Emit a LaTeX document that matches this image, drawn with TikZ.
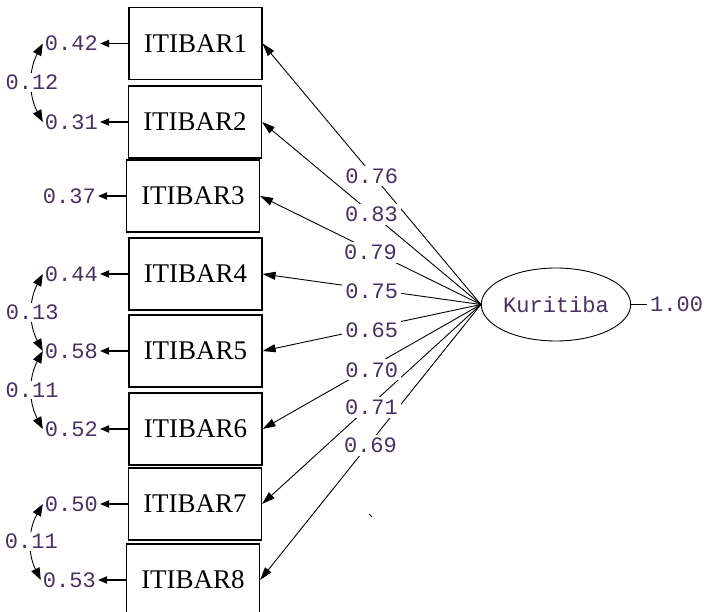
\documentclass[tikz,border=0pt]{standalone}
\usepackage{fontspec}
\setmainfont{Liberation Serif}
\newfontfamily\monof{Liberation Mono}
\usetikzlibrary{arrows.meta,shapes.geometric}
\definecolor{numc}{RGB}{70,50,95}
\tikzset{
  obsbox/.style={draw, line width=1.2pt, minimum width=133pt, minimum height=72pt, inner sep=0pt,
    font=\fontsize{27}{30}\selectfont},
  numlab/.style={text=numc, inner sep=2pt, font=\monof\fontsize{22}{24}\selectfont},
  errlab/.style={numlab, anchor=east},
  loadlab/.style={numlab, fill=white, inner sep=3pt},
  arr/.style={line width=0.9pt, -{Triangle[length=13pt,width=8pt]}},
  errarr/.style={line width=1.8pt, -{Triangle[length=9pt,width=7pt]}},
  covar/.style={line width=0.9pt, {Triangle[length=12pt,width=9pt]}-{Triangle[length=12pt,width=9pt]}},
}
\begin{document}
\begin{tikzpicture}[x=1pt,y=-1pt]
\useasboundingbox (0,0) rectangle (704,612);
% observed variables
\node[obsbox] (b1) at (195.5,43.5) {ITIBAR1};
\node[obsbox] (b2) at (195,122) {ITIBAR2};
\node[obsbox] (b3) at (193,196) {ITIBAR3};
\node[obsbox] (b4) at (195.5,274) {ITIBAR4};
\node[obsbox] (b5) at (195.5,351) {ITIBAR5};
\node[obsbox] (b6) at (195.5,429) {ITIBAR6};
\node[obsbox] (b7) at (195,504) {ITIBAR7};
\node[obsbox] (b8) at (193,580) {ITIBAR8};
% error variances
\node[errlab] (e1) at (100,43.5) {0.42};
\node[errlab] (e2) at (100,122) {0.31};
\node[errlab] (e3) at (98,196) {0.37};
\node[errlab] (e4) at (100,274) {0.44};
\node[errlab] (e5) at (100,351) {0.58};
\node[errlab] (e6) at (100,429) {0.52};
\node[errlab] (e7) at (100,504) {0.50};
\node[errlab] (e8) at (98,580) {0.53};
\foreach \i in {1,...,8}{\draw[errarr] (b\i.west) -- (e\i.east);}
% latent
\node[ellipse, draw, line width=0.9pt, minimum width=132pt, minimum height=73pt, inner sep=0pt,
  text=numc, font=\monof\fontsize{22}{24}\selectfont] (K) at (556,304.5) {Kuritiba};
\node[numlab, anchor=west, inner sep=0pt] (v) at (650,304.5) {1.00};
\draw[line width=0.9pt] (K.east) -- ([xshift=-3pt]v.west);
% loadings
\foreach \i in {1,...,8}{\draw[arr] (K.west) -- (b\i.east);}
\path (K.west) -- node[loadlab, midway, yshift=-2pt] {0.76} (b1.east);
\path (K.west) -- node[loadlab, midway, yshift=-1pt] {0.83} (b2.east);
\path (K.west) -- node[loadlab, midway, yshift=-2pt] {0.79} (b3.east);
\path (K.west) -- node[loadlab, midway, yshift=-2pt] {0.75} (b4.east);
\path (K.west) -- node[loadlab, midway, yshift=-2pt] {0.65} (b5.east);
\path (K.west) -- node[loadlab, midway, yshift=-3pt] {0.70} (b6.east);
\path (K.west) -- node[loadlab, midway, yshift=-3pt] {0.71} (b7.east);
\path (K.west) -- node[loadlab, midway, yshift=-3pt] {0.69} (b8.east);
% error covariances
\draw[covar] (e1.west) to[bend right=28] node[numlab, fill=white, midway] {0.12} (e2.west);
\draw[covar] (e4.west) to[bend right=28] node[numlab, fill=white, midway] {0.13} (e5.west);
\draw[covar] (e5.west) to[bend right=28] node[numlab, fill=white, midway] {0.11} (e6.west);
\draw[covar] (e7.west) to[bend right=28] node[numlab, fill=white, midway] {0.11} (e8.west);
% stray mark
\draw[line width=0.8pt] (369,514) -- (372,517);
\end{tikzpicture}
\end{document}
